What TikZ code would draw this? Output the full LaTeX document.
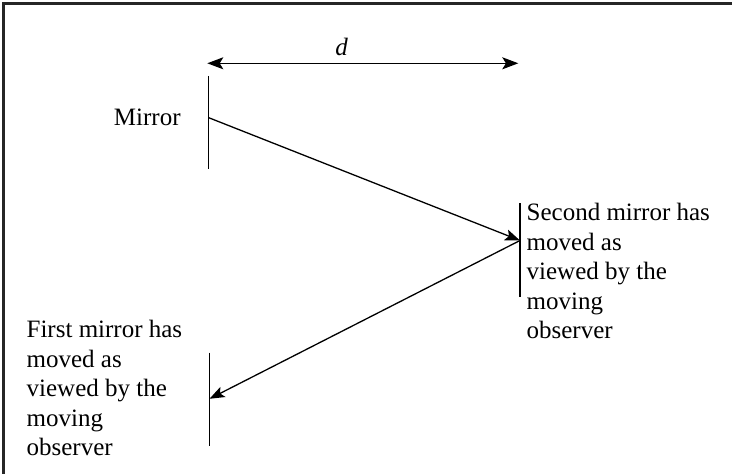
\documentclass[tikz,border=0pt]{standalone}
\usepackage{fontspec}
\setmainfont{Liberation Serif}
\usetikzlibrary{positioning,arrows.meta}

\begin{document}
\begin{tikzpicture}[x=0.5pt,y=-0.5pt,
			>={Stealth[length=7.5pt,width=5.6pt,inset=1.6pt]},
			line width=0.65pt,
			every node/.style={
				inner sep=0pt,
				align=left,
				anchor=base west,
				font=\fontsize{12.5}{14.75}\selectfont
			},
			mirror/.style={line width=0.7pt},
			frame/.style={line width=1.3pt,draw=black!85}]
			
			\useasboundingbox (0,0) rectangle (732,474);
			
			\draw[frame](732,3.5)--(3.5,3.5)--(3.5,474);
			
			\coordinate (dleft) at (207.3,63.3);
			
			\coordinate (dright) at (518.3,63.3);
			
			\coordinate (m1top) at (208.7,76);
			
			\coordinate (m1bot) at (208.7,169.3);
			
			\coordinate (hit1) at (208.7,117.7);
			
			\coordinate (m2top) at (520,203.3);
			
			\coordinate (m2bot) at (520,296.7);
			
			\coordinate (hit2) at (520,240.5);
			
			\coordinate (m3top) at (209.5,352.7);
			
			\coordinate (m3bot) at (209.5,445.7);
			
			\coordinate (hit3) at (209.5,398.8);
			
			\node (dlabel)[anchor=base] at (341.7,55.7){\textit{d}};
			
			\node (mirrorlbl) at (113.3,125.7){Mirror};
			
			% base of a multi-line node is its last line
			\node (secondlbl) at (526,339){Second mirror has\\moved as\\viewed by the\\moving\\observer};
			
			\node (firstlbl) at (26,456){First mirror has\\moved as\\viewed by the\\moving\\observer};
			
			\draw[<->,>={Stealth[length=8pt,width=6pt,inset=1.8pt]}](dleft)--(dright);
			
			\draw[mirror](m1top)--(m1bot);
			
			\draw[mirror](m2top)--(m2bot);
			
			\draw[mirror](m3top)--(m3bot);
			
			\draw[->](hit1)--(hit2);
			
			\draw[->](hit2)--(hit3);
			
		\end{tikzpicture}
\end{document}
